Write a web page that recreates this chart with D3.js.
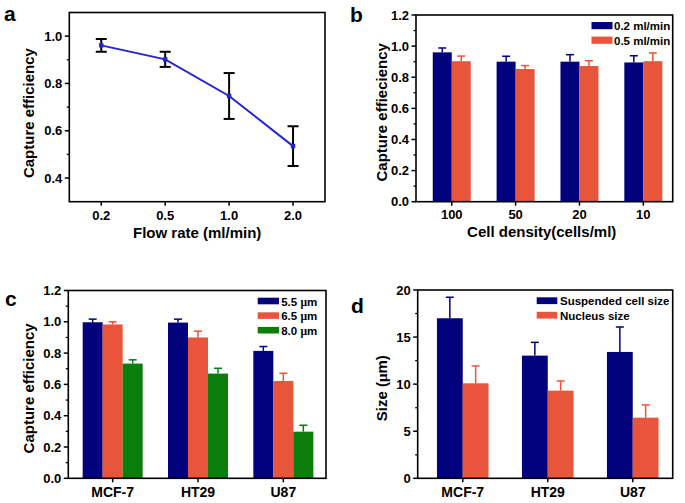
<!DOCTYPE html>
<html><head><meta charset="utf-8">
<script src="https://cdn.jsdelivr.net/npm/d3@7"></script>
<style>
html,body{margin:0;padding:0;background:#fff;}
svg{display:block;font-family:"Liberation Sans",Arial,sans-serif;font-weight:bold;}
</style></head>
<body>
<svg id="chart" width="685" height="503"></svg>
<script>
// ---- data ----
const flowRates = ["0.2", "0.5", "1.0", "2.0"];
const effA = [0.961, 0.902, 0.747, 0.535];
const errA = [0.027, 0.032, 0.097, 0.084];

const cellDensity = ["100", "50", "20", "10"];
const seriesB = ["0.2 ml/min", "0.5 ml/min"];
const b02 = [0.960, 0.900, 0.900, 0.895];
const b02err = [0.028, 0.035, 0.045, 0.043];
const b05 = [0.903, 0.853, 0.872, 0.903];
const b05err = [0.033, 0.022, 0.034, 0.053];

const cellLines = ["MCF-7", "HT29", "U87"];
const seriesC = ["5.5", "6.5", "8.0"];
const c55 = [0.997, 0.995, 0.814];
const c55err = [0.020, 0.022, 0.028];
const c65 = [0.983, 0.900, 0.622];
const c65err = [0.017, 0.040, 0.049];
const c80 = [0.733, 0.669, 0.298];
const c80err = [0.024, 0.034, 0.041];

const seriesD = ["Suspended cell size", "Nucleus size"];
const dCell = [17.0, 13.03, 13.42];
const dCellErr = [2.23, 1.41, 2.65];
const dNuc = [10.09, 9.31, 6.44];
const dNucErr = [1.84, 1.03, 1.35];

const yTicksA = [0.4, 0.6, 0.8, 1.0];
const yTicksB = [0.0, 0.2, 0.4, 0.6, 0.8, 1.0, 1.2];
const yTicksD = [0, 5, 10, 15, 20];

// ---- styles ----
const NAVY = "#02027c", ORANGE = "#e8553a", GREEN = "#0a7d0a", LINEBLUE = "#2424d6";
const svg = d3.select("#chart");

function frame(g, P, x, y, xTicks, yTicks, yMinor, yFmt) {
  g.selectAll(".ymin").data(yMinor).join("line")
    .attr("x1", P.l - 2.5).attr("x2", P.l).attr("y1", d => y(d)).attr("y2", d => y(d))
    .attr("stroke", "#000").attr("stroke-width", 1.3);
  g.selectAll(".ymaj").data(yTicks).join("line")
    .attr("x1", P.l - 4.5).attr("x2", P.l).attr("y1", d => y(d)).attr("y2", d => y(d))
    .attr("stroke", "#000").attr("stroke-width", 1.5);
  g.selectAll(".ylab").data(yTicks).join("text")
    .attr("x", P.l - 7).attr("y", d => y(d) + 4.5).attr("text-anchor", "end")
    .attr("font-size", 13).text(yFmt);
  g.selectAll(".xmaj").data(xTicks).join("line")
    .attr("x1", d => d.pos).attr("x2", d => d.pos).attr("y1", P.b).attr("y2", P.b + 4)
    .attr("stroke", "#000").attr("stroke-width", 1.5);
  g.selectAll(".xlab").data(xTicks).join("text")
    .attr("x", d => d.pos).attr("y", P.xlabY).attr("text-anchor", "middle")
    .attr("font-size", P.xlabSize || 13).text(d => d.label);
  g.append("rect").attr("x", P.l).attr("y", P.t).attr("width", P.r - P.l).attr("height", P.b - P.t)
    .attr("fill", "none").attr("stroke", "#000").attr("stroke-width", 1.6);
}

function micro(sel, before, after) {
  sel.append("tspan").text(before);
  sel.append("tspan").attr("font-family", "'Liberation Serif','Times New Roman',serif").text("\u03bc");
  sel.append("tspan").text(after);
}

// ================= Panel a =================
{
  const P = {l: 69.3, r: 325, t: 12.5, b: 201.7, xlabY: 220.3};
  const g = svg.append("g");
  const x = d3.scaleLinear().domain([-0.5, flowRates.length - 0.5]).range([P.l, P.r]);
  const y = d3.scaleLinear().domain([0.3, 1.1]).range([P.b, P.t]);
  frame(g, P, x, y, flowRates.map((f, i) => ({pos: x(i), label: f})), yTicksA, [0.5, 0.7, 0.9], d => d.toFixed(1));
  const line = d3.line().x((d, i) => x(i)).y(d => y(d));
  g.append("path").datum(effA).attr("d", line).attr("fill", "none").attr("stroke", LINEBLUE).attr("stroke-width", 2);
  const eb = g.selectAll(".eb").data(effA).join("g");
  eb.append("line").attr("x1", (d, i) => x(i)).attr("x2", (d, i) => x(i))
    .attr("y1", (d, i) => y(d + errA[i])).attr("y2", (d, i) => y(d - errA[i]))
    .attr("stroke", "#000").attr("stroke-width", 2);
  eb.append("line").attr("x1", (d, i) => x(i) - 5.5).attr("x2", (d, i) => x(i) + 5.5)
    .attr("y1", (d, i) => y(d + errA[i])).attr("y2", (d, i) => y(d + errA[i]))
    .attr("stroke", "#000").attr("stroke-width", 2);
  eb.append("line").attr("x1", (d, i) => x(i) - 5.5).attr("x2", (d, i) => x(i) + 5.5)
    .attr("y1", (d, i) => y(d - errA[i])).attr("y2", (d, i) => y(d - errA[i]))
    .attr("stroke", "#000").attr("stroke-width", 2);
  g.selectAll(".pt").data(effA).join("rect")
    .attr("x", (d, i) => x(i) - 2.2).attr("y", d => y(d) - 2.2).attr("width", 4.4).attr("height", 4.4)
    .attr("fill", LINEBLUE);
  g.append("text").attr("x", (P.l + P.r) / 2).attr("y", 238.3).attr("text-anchor", "middle").attr("font-size", 15).text("Flow rate (ml/min)");
  g.append("text").attr("transform", `translate(33.5,${(P.t + P.b) / 2 + 6}) rotate(-90)`).attr("text-anchor", "middle").attr("font-size", 15).text("Capture efficiency");
  g.append("text").attr("x", 4).attr("y", 21).attr("font-size", 21).text("a");
}

// bar helper
function barPanel(P, cats, xDomain, yDomain, yTicks, yMinor, yFmt, series, vals, errs, colors, barW) {
  const g = svg.append("g");
  const x = d3.scaleLinear().domain(xDomain).range([P.l, P.r]);
  const y = d3.scaleLinear().domain(yDomain).range([P.b, P.t]);
  const x1 = d3.scaleBand().domain(series).range([-barW * series.length / 2, barW * series.length / 2]);
  series.forEach((s, si) => {
    const sg = g.append("g");
    const cx = i => x(i) + x1(s) + barW / 2;
    sg.selectAll(".eb").data(vals[si]).join("line")
      .attr("x1", (d, i) => cx(i)).attr("x2", (d, i) => cx(i))
      .attr("y1", (d, i) => y(d)).attr("y2", (d, i) => y(d + errs[si][i]))
      .attr("stroke", colors[si]).attr("stroke-width", 1.5);
    sg.selectAll(".cap").data(vals[si]).join("line")
      .attr("x1", (d, i) => cx(i) - 4).attr("x2", (d, i) => cx(i) + 4)
      .attr("y1", (d, i) => y(d + errs[si][i])).attr("y2", (d, i) => y(d + errs[si][i]))
      .attr("stroke", colors[si]).attr("stroke-width", 1.5);
    sg.selectAll(".bar").data(vals[si]).join("rect")
      .attr("x", (d, i) => x(i) + x1(s)).attr("width", x1.bandwidth())
      .attr("y", d => y(d)).attr("height", d => y(yDomain[0]) - y(d))
      .attr("fill", colors[si]);
  });
  frame(g, P, x, y, cats.map((c, i) => ({pos: x(i), label: c})), yTicks, yMinor, yFmt);
  return g;
}

// ================= Panel b =================
{
  const P = {l: 416, r: 672.7, t: 15, b: 201.7, xlabY: 218.5};
  const g = barPanel(P, cellDensity, [-0.56, 3.46], [0, 1.2], yTicksB, [0.1, 0.3, 0.5, 0.7, 0.9, 1.1], d => d.toFixed(1),
    seriesB, [b02, b05], [b02err, b05err], [NAVY, ORANGE], 19);
  const leg = g.selectAll(".leg").data(seriesB).join("g").attr("transform", (d, i) => `translate(591.5,${22 + i * 14.6})`);
  leg.append("rect").attr("width", 21).attr("height", 7.2).attr("fill", (d, i) => [NAVY, ORANGE][i]);
  leg.append("text").attr("x", 22.5).attr("y", 8).attr("font-size", 11.5).text(d => d);
  g.append("text").attr("x", 541.7).attr("y", 236.5).attr("text-anchor", "middle").attr("font-size", 15).text("Cell density(cells/ml)");
  g.append("text").attr("transform", `translate(387,${(P.t + P.b) / 2 + 4}) rotate(-90)`).attr("text-anchor", "middle").attr("font-size", 15).text("Capture effieciency");
  g.append("text").attr("x", 350).attr("y", 22).attr("font-size", 21).text("b");
}

// ================= Panel c =================
{
  const P = {l: 68.3, r: 326, t: 290.5, b: 478.3, xlabY: 497, xlabSize: 14};
  const g = barPanel(P, cellLines, [-0.52, 2.5], [0, 1.2], yTicksB, [0.1, 0.3, 0.5, 0.7, 0.9, 1.1], d => d.toFixed(1),
    seriesC, [c55, c65, c80], [c55err, c65err, c80err], [NAVY, ORANGE, GREEN], 20);
  const leg = g.selectAll(".leg").data(seriesC).join("g").attr("transform", (d, i) => `translate(257.7,${297.7 + i * 14.6})`);
  leg.append("rect").attr("width", 21.3).attr("height", 6.6).attr("fill", (d, i) => [NAVY, ORANGE, GREEN][i]);
  leg.append("text").attr("x", 23.5).attr("y", 7.8).attr("font-size", 11.5).each(function(d) { micro(d3.select(this), d + " ", "m"); });
  g.append("text").attr("transform", `translate(33.5,${(P.t + P.b) / 2 + 4}) rotate(-90)`).attr("text-anchor", "middle").attr("font-size", 15).text("Capture efficiency");
  g.append("text").attr("x", 5).attr("y", 306).attr("font-size", 21).text("c");
}

// ================= Panel d =================
{
  const P = {l: 417.7, r: 672.7, t: 290, b: 478.3, xlabY: 497, xlabSize: 14};
  const g = barPanel(P, cellLines, [-0.53, 2.47], [0, 20], yTicksD, [2.5, 7.5, 12.5, 17.5], d => d,
    seriesD, [dCell, dNuc], [dCellErr, dNucErr], [NAVY, ORANGE], 25.8);
  const leg = g.selectAll(".leg").data(seriesD).join("g").attr("transform", (d, i) => `translate(536.7,${297.3 + i * 14.5})`);
  leg.append("rect").attr("width", 20.6).attr("height", 6.8).attr("fill", (d, i) => [NAVY, ORANGE][i]);
  leg.append("text").attr("x", 23.3).attr("y", 8).attr("font-size", 11.5).text(d => d);
  g.append("text").attr("transform", `translate(387,${(P.t + P.b) / 2 + 4}) rotate(-90)`).attr("text-anchor", "middle").attr("font-size", 15)
    .each(function() { micro(d3.select(this), "Size (", "m)"); });
  g.append("text").attr("x", 351).attr("y", 313).attr("font-size", 21).text("d");
}
</script>
</body></html>
